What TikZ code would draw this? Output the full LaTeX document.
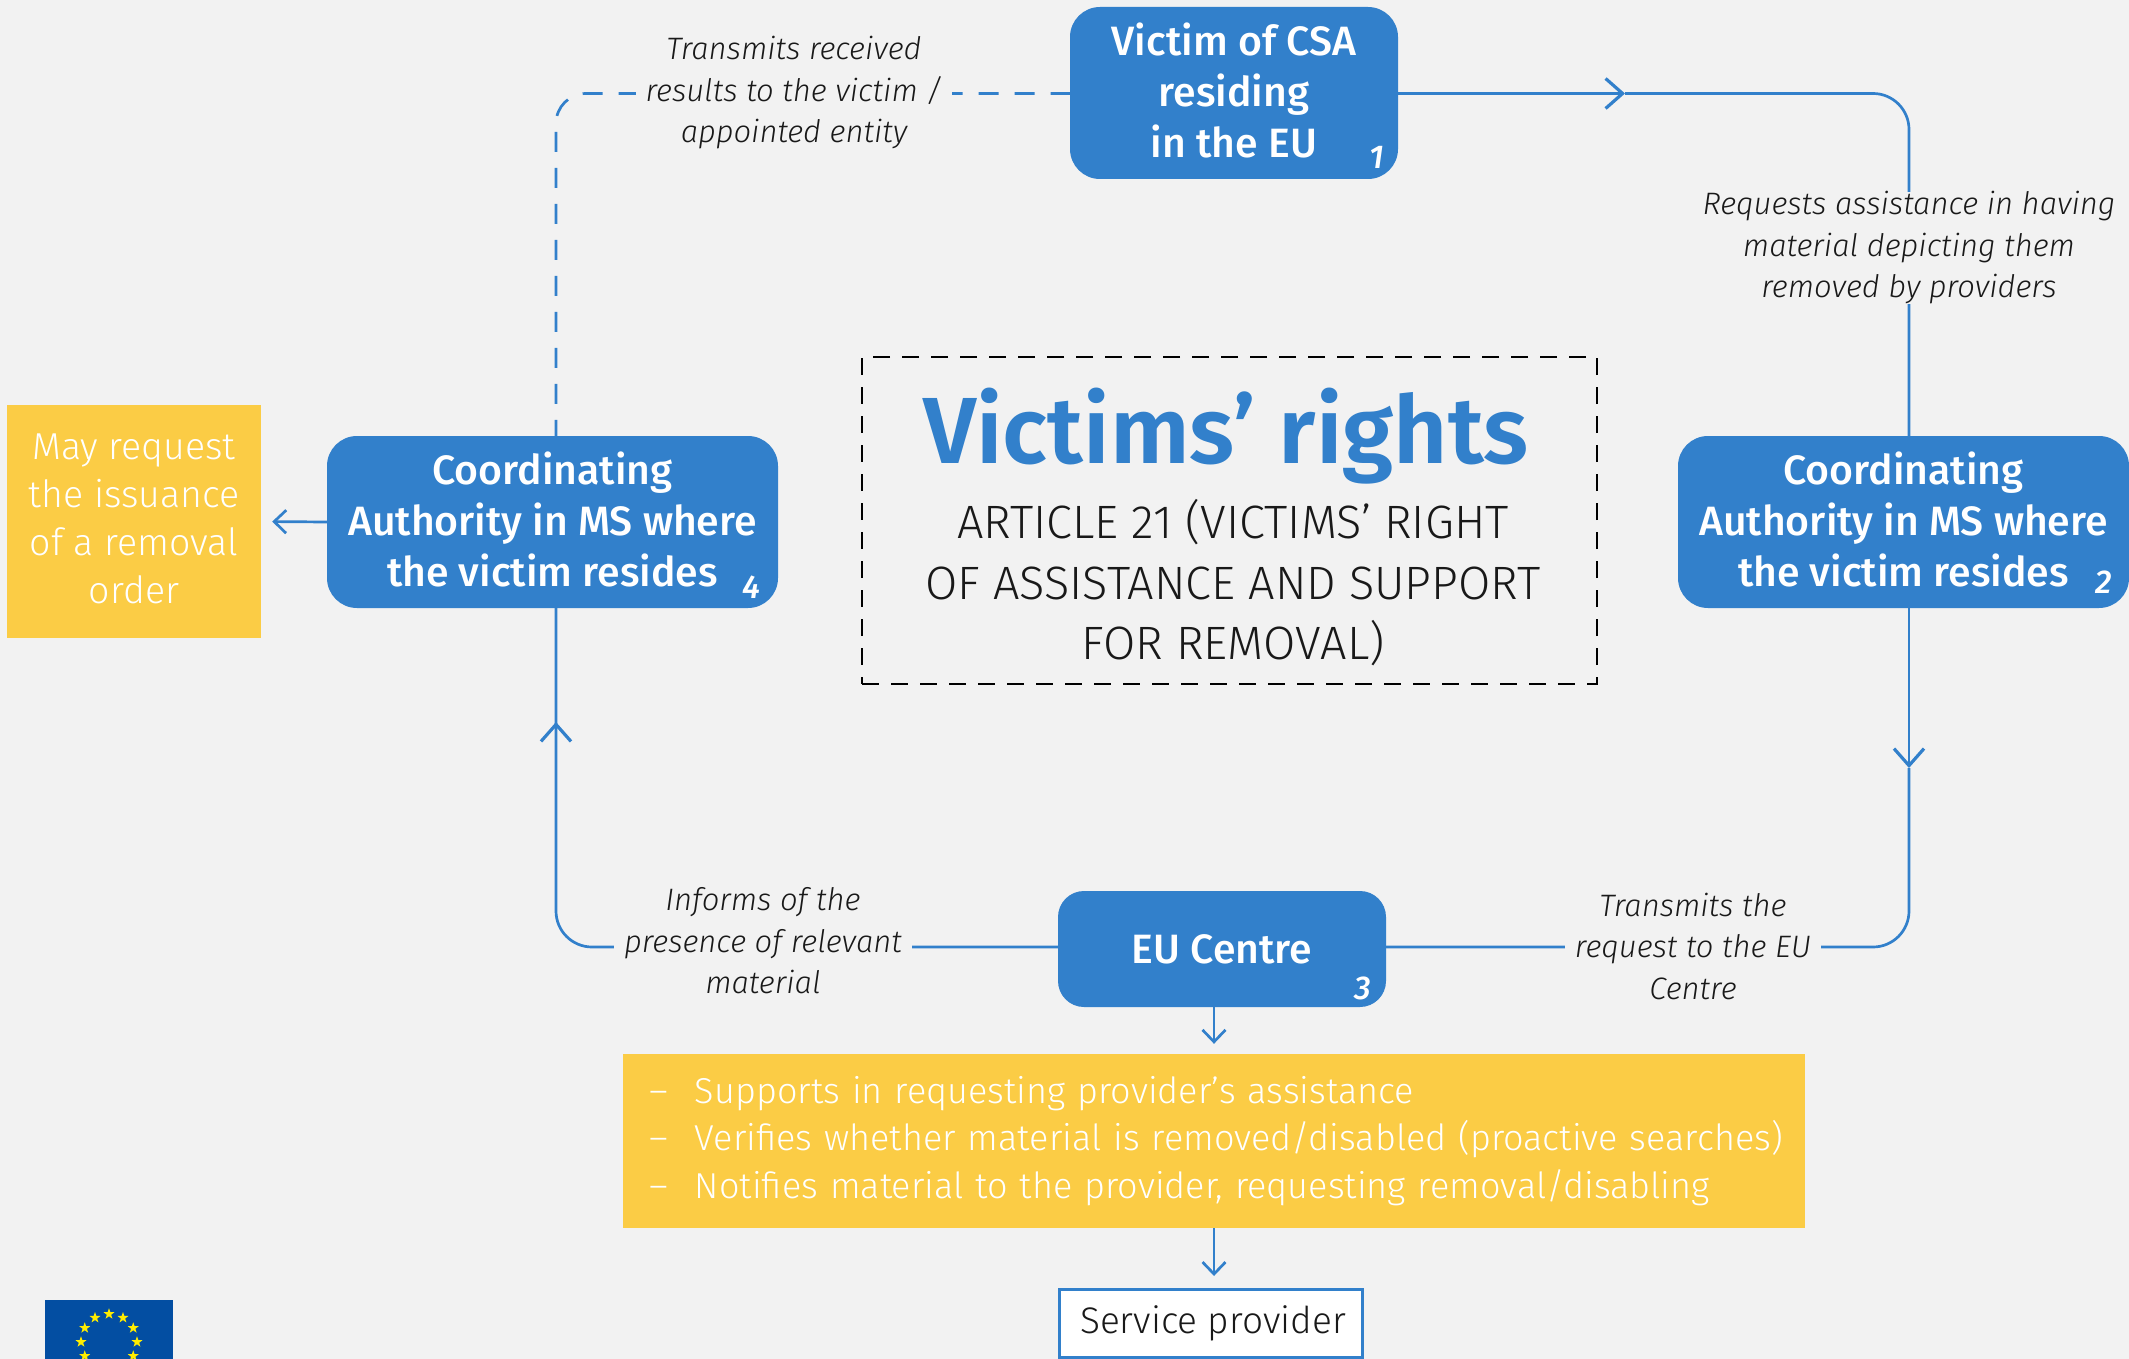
\documentclass[tikz,border=0pt]{standalone}
\usepackage{fontspec}
\setmainfont{Fira Sans}[UprightFont=* Light,ItalicFont=* Light Italic,BoldFont=* Medium,BoldItalicFont=* Medium Italic]
\newfontfamily\semib{Fira Sans SemiBold}
\usetikzlibrary{arrows.meta,shapes.geometric,calc}
\definecolor{bg}{HTML}{F2F2F2}
\definecolor{eublue}{HTML}{3280CB}
\definecolor{eugold}{HTML}{FBCC45}
\definecolor{flagblue}{HTML}{034EA2}
\definecolor{flagstar}{HTML}{FFED00}
\newcommand{\fs}[2]{\fontsize{#1pt}{#2pt}\selectfont}
\tikzset{
 x=1pt,y=-1pt,
 bluebox/.style={fill=eublue,text=white,inner sep=0pt,align=center,rounded corners=30pt,font=\bfseries\fs{41}{51}},
 goldbox/.style={fill=eugold,text=white,inner sep=0pt,font=\fs{36}{47.7}},
 numlabel/.style={text=white,inner sep=0pt,font=\bfseries\itshape\fs{33}{35}},
 note/.style={fill=bg,inner xsep=10pt,inner ysep=0pt,align=center,text=black!90,font=\itshape\fs{31}{41.5}},
 conn/.style={draw=eublue,line width=2.7pt},
 bigtip/.style={conn,-{Straight Barb[length=17pt,width=30pt,line width=3.2pt]}},
 smalltip/.style={conn,-{Straight Barb[length=12pt,width=23pt,line width=2.7pt]}},
 dashconn/.style={conn,dash pattern=on 20pt off 16pt,dash phase=4pt},
 liftup/.style={text depth=6pt},
}
\begin{document}
\begin{tikzpicture}
\useasboundingbox[fill=bg] (0,0) rectangle (2129,1359);
% flag
\begin{scope}
\clip (45,1300) rectangle (173,1359);
\fill[flagblue] (45,1300) rectangle (173,1359);
\foreach \a in {90,60,120,30,150,0,180,-30,210}{
 \node[star,star points=5,star point ratio=2.5,fill=flagstar,inner sep=0pt,minimum size=11.5pt] (st\a) at ($(109,1342)+(\a:28pt and 28pt)$) {};
}
\end{scope}
% boxes
\node[bluebox,liftup,minimum width=328pt,minimum height=172pt] (b1) at (1234,93) {Victim of CSA\\residing\\in the EU};
\node[bluebox,liftup,minimum width=451pt,minimum height=172pt] (b2) at (1903.5,522) {Coordinating\\Authority in MS where\\the victim resides};
\node[bluebox,liftup,minimum width=451pt,minimum height=172pt] (b4) at (552.5,522) {Coordinating\\Authority in MS where\\the victim resides};
\node[bluebox,minimum width=328pt,minimum height=116pt,rounded corners=26pt] (b3) at (1222,949) {EU Centre};
\node[goldbox,liftup,minimum width=254pt,minimum height=233pt,align=center,font=\fs{37.5}{48}] (ask) at (134,521.5) {May request\\the issuance\\of a removal\\order};
\node[goldbox,minimum height=174pt,text width=1130pt,inner xsep=26pt,align=left] (sup) at (1214,1141) {\makebox[46pt][l]{--}Supports in requesting provider’s assistance\\\mbox{\makebox[46pt][l]{--}Verifies whether material is removed/disabled (proactive searches)}\\\makebox[46pt][l]{--}Notifies material to the provider, requesting removal/disabling};
\node[draw=eublue,line width=3pt,fill=white,minimum width=303pt,minimum height=68pt,inner sep=0pt,text=black!90,font=\fs{37}{44}] (sp) at (1210.5,1323.5) {\hspace*{5pt}Service provider};
% centre box
\node[draw=black,line width=2.8pt,dash pattern=on 17pt off 12pt,minimum width=735pt,minimum height=327pt,inner sep=0pt] (art) at (1229.5,520.5) {};
\node[inner sep=0pt,text=eublue,font=\semib\fs{94}{100}] (ttl) at (1226,436) {Victims’ rights};
\node[inner sep=0pt,align=center,text=black!90,font=\fs{46.8}{60.5}] (arttxt) at (1233,583) {ARTICLE 21 (VICTIMS’ RIGHT\\OF ASSISTANCE AND SUPPORT\\FOR REMOVAL)};
% numbers
\node[numlabel] (n1) at (1377,157) {1};
\node[numlabel] (n2) at (2104,582) {2};
\node[numlabel] (n3) at (1363,988) {3};
\node[numlabel] (n4) at (751,587) {4};
% routing helpers
\coordinate (colR) at (1909,0);
\coordinate (colL) at (556,0);
\coordinate (colS) at (1214,0);
\coordinate (rowB) at (0,947);
\coordinate (m1) at (1625,93.5);
\coordinate (m2) at (1909,768);
\coordinate (m4) at (556,722);
% connectors
\draw[bigtip] (b1.east |- m1) -- (m1);
\draw[conn,rounded corners=36pt] (m1) -- (colR |- m1) -- (b2.north -| colR);
\draw[bigtip] (b2.south -| colR) -- (m2);
\draw[conn,rounded corners=36pt] (m2) -- (colR |- rowB) -- (b3.east |- rowB);
\draw[conn,rounded corners=36pt] (b3.west |- rowB) -- (colL |- rowB) -- (b4.south -| colL);
\draw[bigtip] (b4.south -| colL) ++(0,200) -- (m4);
\draw[dashconn,rounded corners=30pt] (b4.north -| colL) -- (colL |- m1) -- (b1.west |- m1);
\draw[smalltip,shorten >=11pt] (b4.west) -- (ask.east);
\draw[smalltip,shorten >=10pt] (b3.south -| colS) -- (sup.north -| colS);
\draw[smalltip,shorten >=12pt] (sup.south -| colS) -- (sp.north -| colS);
% connector notes
\node[note] (t1) at (794,93) {Transmits received\\results to the victim /\\appointed entity};
\node[note] (t2) at (1909,248) {Requests assistance in having\\material depicting them\\removed by providers};
\node[note] (t3) at (1693,946) {Transmits the\\request to the EU\\Centre};
\node[note] (t4) at (763,941) {Informs of the\\presence of relevant\\material};
\end{tikzpicture}
\end{document}
